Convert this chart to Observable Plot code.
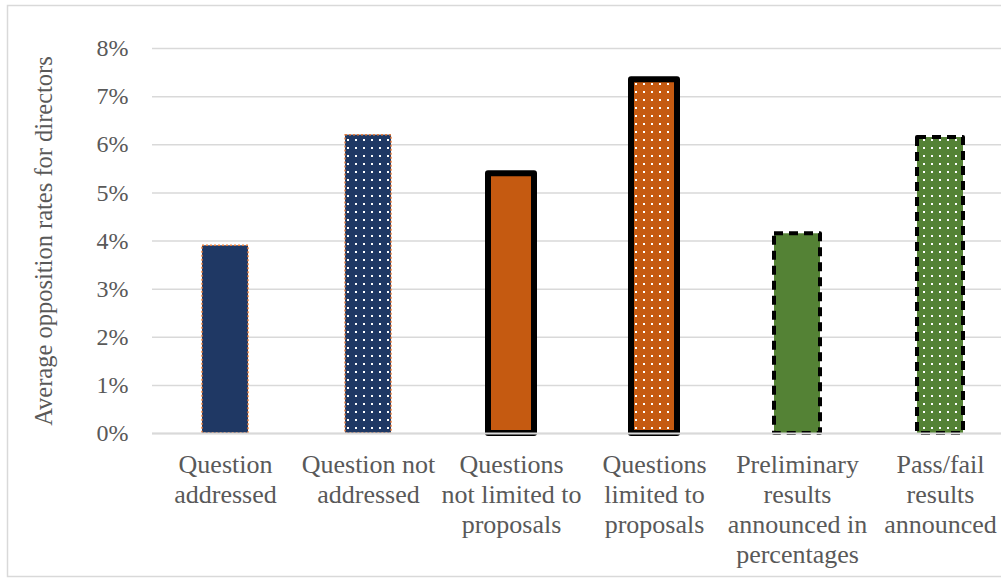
<!DOCTYPE html>
<html>
<head>
<meta charset="utf-8">
<script src="https://cdn.jsdelivr.net/npm/d3@7"></script>
<script src="https://cdn.jsdelivr.net/npm/@observablehq/plot@0.6"></script>
<style>
  html, body { margin: 0; padding: 0; background: #fff; }
  #chart { width: 1001px; height: 579px; overflow: hidden; }
</style>
</head>
<body>
<div id="chart"></div>
<script>
// ---- data ----
const categories = [
  "Question\naddressed",
  "Question not\naddressed",
  "Questions\nnot limited to\nproposals",
  "Questions\nlimited to\nproposals",
  "Preliminary\nresults\nannounced in\npercentages",
  "Pass/fail\nresults\nannounced"
];
const values = [0.039, 0.062, 0.054, 0.0735, 0.0415, 0.0615];
const yTicks = [0, 0.01, 0.02, 0.03, 0.04, 0.05, 0.06, 0.07, 0.08];
const yTitle = "Average opposition rates for directors";

// ---- styles ----
const baseColors = ["#1F3864", "#1F3864", "#C55A11", "#C55A11", "#548235", "#548235"];
const dotted = [false, true, false, true, false, true];
const strokeColors = ["#E8803F", "#E8803F", "#000", "#000", "#000", "#000"];
const strokeWidths = [1.5, 1.5, 6, 6, 4, 4];
const strokeDashes = ["2,2", "2,2", null, null, "9,6", "9,6"];

const data = categories.map((c, i) => ({category: c, value: values[i], i}));
const fillFor = i => dotted[i] ? `url(#dots${i})` : baseColors[i];

const textColor = "#595959";
const font = "Liberation Serif";

const barMarks = data.map((d, i) => Plot.barY([d], {
  x: "category", y: "value",
  fill: fillFor(i),
  stroke: strokeColors[i],
  strokeWidth: strokeWidths[i],
  strokeDasharray: strokeDashes[i] ?? undefined,
  strokeLinejoin: "round"
}));

const chart = Plot.plot({
  width: 1001,
  height: 579,
  marginLeft: 152,
  marginRight: 0,
  marginTop: 48,
  marginBottom: 146,
  style: {fontFamily: font, fontSize: "24px", color: textColor, background: "#fff"},
  x: {domain: categories, range: [152.4, 1011.6], paddingInner: 0.68, paddingOuter: 0.34, label: null},
  y: {domain: [0, 0.08], label: null},
  marks: [
    Plot.ruleY(yTicks, {stroke: "#d9d9d9", strokeWidth: 1.5}),
    ...barMarks,
    Plot.ruleY([0], {stroke: "#d9d9d9", strokeWidth: 2}),
    Plot.axisY(yTicks, {
      tickSize: 0, tickPadding: 24, tickFormat: d => Math.round(d * 100) + "%",
      fill: textColor, fontSize: 24, fontFamily: font, label: null
    }),
    Plot.axisX({
      tickSize: 0, tickPadding: 18, fill: textColor, fontSize: 26, fontFamily: font,
      lineHeight: 1.16, label: null, textAnchor: "middle"
    }),
    Plot.text([yTitle], {
      frameAnchor: "left", dx: -108, rotate: -90, textAnchor: "middle",
      fill: textColor, fontSize: 24.5, fontFamily: font
    })
  ]
});

// pattern definitions
const svg = d3.select(chart);
const defs = svg.insert("defs", ":first-child");
dotted.forEach((isDot, i) => {
  if (!isDot) return;
  const p = defs.append("pattern")
    .attr("id", `dots${i}`)
    .attr("patternUnits", "userSpaceOnUse")
    .attr("width", 8).attr("height", 8);
  p.append("rect").attr("width", 8).attr("height", 8).attr("fill", baseColors[i]);
  p.append("rect").attr("x", 3).attr("y", 3).attr("width", 2).attr("height", 2).attr("fill", "#fff");
});

// outer chart border (decoration)
svg.append("rect")
  .attr("x", 7.5).attr("y", 5.5)
  .attr("width", 1001).attr("height", 571)
  .attr("fill", "none").attr("stroke", "#d9d9d9").attr("stroke-width", 1.5);

document.getElementById("chart").appendChild(chart);
</script>
</body>
</html>
